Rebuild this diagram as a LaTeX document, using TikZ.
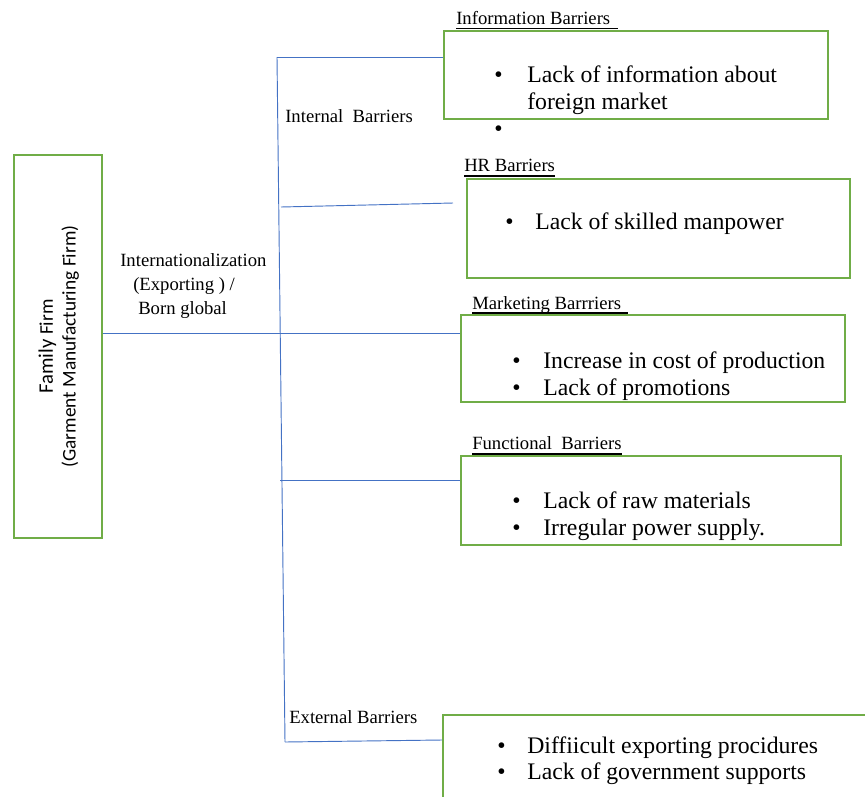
\documentclass[tikz,border=0pt]{standalone}
\usepackage{fontspec}
\setmainfont{Liberation Serif}
\newfontfamily\calibri{Carlito}
\definecolor{boxgreen}{HTML}{70AD47}
\definecolor{lineblue}{HTML}{4472C4}
\begin{document}
\begin{tikzpicture}[x=0.75pt,y=-0.75pt,
  box/.style={draw=boxgreen, line width=1.5pt, inner sep=0, anchor=north west},
  conn/.style={draw=lineblue, line width=0.7pt},
  lbl/.style={font=\fontsize{14}{18}\selectfont, inner sep=0, anchor=base west},
  item/.style={font=\fontsize{17.8}{20.25}\selectfont, inner sep=0, anchor=base west},
  uline/.style={draw=black, line width=1.4pt}
]
\useasboundingbox (0,0) rectangle (865,797);
\clip (0,0) rectangle (865,797);

% boxes
\node[box, minimum width=66pt, minimum height=287.25pt] (ff) at (13,154) {};
\node[rotate=90, font=\calibri\fontsize{14.5}{17}\selectfont, align=center, inner sep=0] (fftext) at ([xshift=0.5pt]ff.center) {{\fontsize{15.5}{17}\selectfont Family} Firm\\(Garment Manufacturing Firm)};

\node[box, minimum width=288pt, minimum height=66pt] (info) at (443,30) {};
\node[box, minimum width=287.25pt, minimum height=74.25pt] (hr) at (466,178) {};
\node[box, minimum width=288pt, minimum height=65.25pt] (mk) at (460,314) {};
\node[box, minimum width=285pt, minimum height=66.75pt] (fn) at (460,455) {};
\node[box, minimum width=340pt, minimum height=90pt] (ext) at (442,714) {};

% left labels
\node[lbl] (intl1) at (120,266) {Internationalization};
\node[lbl] (intl2) at (133,290) {(Exporting ) /};
\node[lbl] (intl3) at (138,314) {Born global};
\node[lbl] (intb) at (285,122) {Internal\ \ Barriers};
\node[lbl] (extb) at (289,723) {External Barriers};

% titles
\node[lbl] (tinfo) at (456,24) {Information Barriers};
\node[lbl] (thr) at (464,171) {HR Barriers};
\node[lbl] (tmk) at (472,309) {Marketing Barrriers};
\node[lbl] (tfn) at (472,449) {Functional\ \ Barriers};
\coordinate (u1a) at (456,28.5); \coordinate (u1b) at (618,28.5);
\coordinate (u2a) at (464,176); \coordinate (u2b) at (555,176);
\coordinate (u3a) at (472,313); \coordinate (u3b) at (628,313);
\coordinate (u4a) at (472,454); \coordinate (u4b) at (622,454);
\draw[uline] (u1a) -- (u1b);
\draw[uline] (u2a) -- (u2b);
\draw[uline] (u3a) -- (u3b);
\draw[uline] (u4a) -- (u4b);

% items
\node[item] (b1) at (494,82) {•};
\node[item] (i1a) at (527,82) {Lack of information about};
\node[item] (i1b) at (527,109) {foreign market};
\node[item] (b1s) at (494,136) {•};

\node[item] (b2) at (505,229) {•};
\node[item] (i2) at (535,229) {Lack of skilled manpower};

\node[item] (b3a) at (512,368) {•};
\node[item] (i3a) at (543,368) {Increase in cost of production};
\node[item] (b3b) at (512,395) {•};
\node[item] (i3b) at (543,395) {Lack of promotions};

\node[item] (b4a) at (512,508) {•};
\node[item] (i4a) at (543,508) {Lack of raw materials};
\node[item] (b4b) at (512,535) {•};
\node[item] (i4b) at (543,535) {Irregular power supply.};

\node[item] (b5a) at (497,753) {•};
\node[item] (i5a) at (527,753) {Diffiicult exporting procidures};
\node[item] (b5b) at (497,779) {•};
\node[item] (i5b) at (527,779) {Lack of government supports};

% connectors
\coordinate (tr1) at (277,57);
\coordinate (tr2) at (281,207);
\coordinate (tr3) at (280,333);
\coordinate (tr4) at (280,480);
\coordinate (tr5) at (285,742);
\coordinate (hrend) at (453,203);
\coordinate (exend) at (442,740);
\draw[conn] (tr1) -- (tr5);
\draw[conn] (tr1) -- (info.west |- tr1);
\draw[conn] (tr2) -- (hrend);
\draw[conn] (ff.east |- tr3) -- (mk.west |- tr3);
\draw[conn] (tr4) -- (fn.west |- tr4);
\draw[conn] (tr5) -- (exend);
\end{tikzpicture}
\end{document}
